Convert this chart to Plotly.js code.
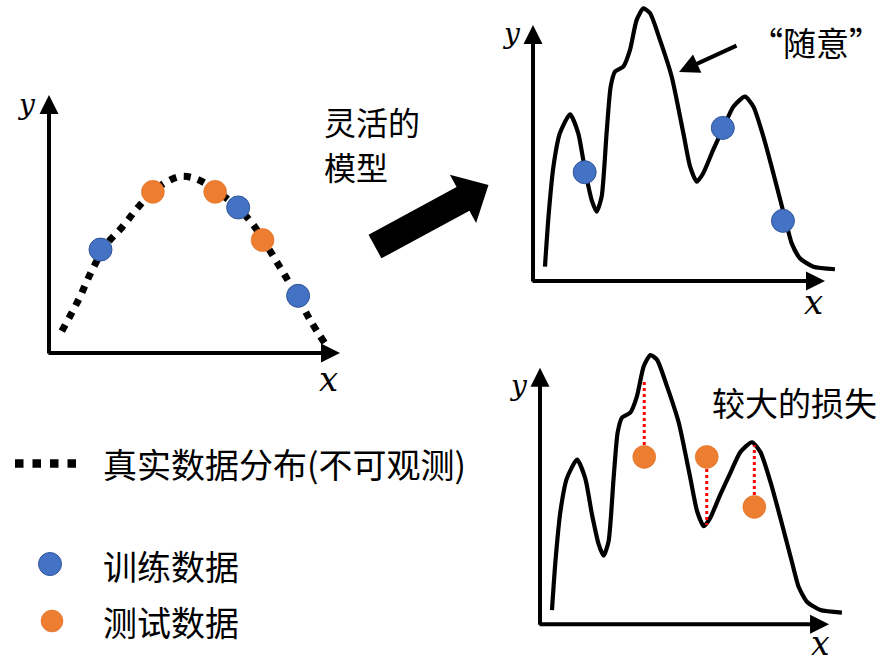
<!DOCTYPE html>
<html>
<head>
<meta charset="utf-8">
<script src="https://cdn.plot.ly/plotly-3.0.1.min.js"></script>
<style>
html,body{margin:0;padding:0;background:#ffffff;}
#chart{width:891px;height:666px;}
</style>
</head>
<body>
<div id="chart"></div>
<script>
// ---------------- data ----------------
// True (unobservable) data distribution: dotted curve in the left panel
const trueX = [0.44, 1.0, 1.5, 2.0, 2.5, 3.0, 3.5, 4.0, 4.5, 5.0, 5.5, 6.0, 6.5, 7.0, 7.5, 8.0, 8.5, 9.0, 9.48];
const trueY = [0.9, 2.15, 3.45, 4.5, 5.15, 5.9, 6.55, 7.0, 7.25, 7.18, 6.88, 6.45, 5.95, 5.3, 4.38, 3.4, 2.4, 1.3, 0.4];

// Training data (blue)
const trainX = [1.77, 6.50, 8.56];
const trainY = [4.25, 5.98, 2.35];

// Test data (orange)
const testX = [3.57, 5.71, 7.34];
const testY = [6.62, 6.62, 4.64];

// Flexible ("arbitrary") model curve, right panels
const modelX = [0.41, 0.53, 0.70, 0.92, 1.27, 1.55, 1.78, 2.01, 2.18, 2.35, 2.52, 2.66, 2.81, 3.09, 3.32, 3.55, 3.78, 4.01, 4.35, 4.75, 5.15, 5.38, 5.61, 5.83, 6.17, 6.52, 6.86, 7.26, 7.55, 7.89, 8.23, 8.63, 8.86, 9.14, 9.60, 10.34];
const modelY = [0.56, 2.51, 4.47, 5.77, 6.51, 5.77, 4.34, 3.16, 2.71, 3.29, 5.77, 7.59, 8.18, 8.37, 9.02, 10.20, 10.65, 10.46, 9.41, 7.98, 5.77, 4.47, 3.88, 4.21, 5.12, 5.99, 6.81, 7.20, 6.81, 5.64, 4.21, 2.45, 1.47, 0.89, 0.56, 0.46];

// Upper end of each loss segment (model value) at the test x positions
const lossToY = [9.66, 3.93, 7.09];

// Text
const legendLabels = ['真实数据分布(不可观测)', '训练数据', '测试数据'];
const modelLabelLines = ['灵活的', '模型'];
const arbitraryLabel = '“随意”';
const lossLabel = '较大的损失';
const axisLabelX = 'x';
const axisLabelY = 'y';

// ---------------- styling helpers ----------------
const W = 891, H = 666;
const PX = v => v / W;          // pixel x -> paper
const PY = v => 1 - v / H;      // pixel y -> paper

const BLUE = '#4472C4', BLUE_EDGE = '#2F5597';
const ORANGE = '#ED7D31', ORANGE_EDGE = '#DA6A1E';
const CJK = '"Noto Sans CJK SC", "Noto Sans", sans-serif';
const SERIF = '"DejaVu Serif", "Liberation Serif", serif';

// loss segments built from test data
const lossX = [], lossY = [];
testX.forEach((x, i) => { lossX.push(x, x, null); lossY.push(testY[i], lossToY[i], null); });

const traces = [
  // left panel
  {x: trueX, y: trueY, xaxis: 'x', yaxis: 'y', mode: 'lines', type: 'scatter',
   line: {color: '#000', width: 7, dash: '7px,7.5px', shape: 'spline', smoothing: 1}, hoverinfo: 'skip'},
  {x: trainX, y: trainY, xaxis: 'x', yaxis: 'y', mode: 'markers', type: 'scatter', cliponaxis: false,
   marker: {color: BLUE, size: 23, line: {color: BLUE_EDGE, width: 1}}},
  {x: testX, y: testY, xaxis: 'x', yaxis: 'y', mode: 'markers', type: 'scatter', cliponaxis: false,
   marker: {color: ORANGE, size: 23, line: {color: ORANGE_EDGE, width: 0.5}}},
  // top-right panel
  {x: modelX, y: modelY, xaxis: 'x2', yaxis: 'y2', mode: 'lines', type: 'scatter',
   line: {color: '#000', width: 4.2, shape: 'spline', smoothing: 0.6}, hoverinfo: 'skip'},
  {x: trainX, y: trainY, xaxis: 'x2', yaxis: 'y2', mode: 'markers', type: 'scatter', cliponaxis: false,
   marker: {color: BLUE, size: 23, line: {color: BLUE_EDGE, width: 1}}},
  // bottom-right panel
  {x: modelX, y: modelY, xaxis: 'x3', yaxis: 'y3', mode: 'lines', type: 'scatter',
   line: {color: '#000', width: 4.2, shape: 'spline', smoothing: 0.6}, hoverinfo: 'skip'},
  {x: lossX, y: lossY, xaxis: 'x3', yaxis: 'y3', mode: 'lines', type: 'scatter', connectgaps: false,
   line: {color: '#FF0000', width: 3, dash: 'dot'}, hoverinfo: 'skip'},
  {x: testX, y: testY, xaxis: 'x3', yaxis: 'y3', mode: 'markers', type: 'scatter', cliponaxis: false,
   marker: {color: ORANGE, size: 23, line: {color: ORANGE_EDGE, width: 0.5}}}
];

const hiddenAxis = (domain, range, anchor) => ({domain, range, anchor, visible: false, fixedrange: true});

// axis arrows (in each subplot's own coordinates)
function axisArrows(xa, ya, xTip, yTip, dx, dy) {
  const common = {xref: xa, yref: ya, axref: xa, ayref: ya, text: '', showarrow: true,
                  arrowhead: 2, arrowsize: 0.95, arrowwidth: 4, arrowcolor: '#000', standoff: 0};
  return [
    Object.assign({}, common, {x: xTip, y: 0, ax: -dx, ay: 0}),
    Object.assign({}, common, {x: 0, y: yTip, ax: 0, ay: -dy})
  ];
}

// text placed at a pixel position (centre anchored unless stated)
function label(x, y, text, font, xanchor) {
  return {xref: 'paper', yref: 'paper', x: PX(x), y: PY(y), text, showarrow: false,
          xanchor: xanchor || 'center', yanchor: 'middle', align: 'left', font};
}
const fY = {family: SERIF, size: 28, color: '#000'};
const fX = {family: SERIF, size: 34, color: '#000'};
const fXb = {family: SERIF, size: 33, color: '#000'};
const fC = {family: CJK, size: 32, color: '#000'};
const fL = {family: CJK, size: 34, color: '#000'};

const annotations = [
  ...axisArrows('x', 'y', 10, 10.6, 0.07, 0.08),
  ...axisArrows('x2', 'y2', 10, 10, 0.07, 0.08),
  ...axisArrows('x3', 'y3', 9.9, 10.15, 0.07, 0.08),
  // axis letters
  label(26, 105, '<i>' + axisLabelY + '</i>', fY),
  label(328, 379, '<i>' + axisLabelX + '</i>', fX),
  label(511, 34, '<i>' + axisLabelY + '</i>', fY),
  label(813, 302, '<i>' + axisLabelX + '</i>', fX),
  label(518, 385, '<i>' + axisLabelY + '</i>', fY),
  label(820, 643, '<i>' + axisLabelX + '</i>', fXb),
  // texts
  label(322, 121, modelLabelLines[0], fC, 'left'),
  label(322, 166, modelLabelLines[1], fC, 'left'),
  label(816, 42, arbitraryLabel, {family: CJK, size: 33, color: '#000'}),
  label(710, 402, lossLabel, {family: CJK, size: 33, color: '#000'}, 'left'),
  // thin arrow pointing at the curve
  {xref: 'paper', yref: 'paper', x: PX(679), y: PY(72), ax: 59, ay: -27, text: '', showarrow: true,
   arrowhead: 2, arrowsize: 1, arrowwidth: 4, arrowcolor: '#000', standoff: 0},
  // legend texts
  label(101, 464, legendLabels[0], fL, 'left'),
  label(101, 565, legendLabels[1], fL, 'left'),
  label(101, 621, legendLabels[2], fL, 'left')
];

// big block arrow between panels
function blockArrow(tail, tip, shaftHalf, headHalf, headLen) {
  const dx = tip[0] - tail[0], dy = tip[1] - tail[1];
  const L = Math.hypot(dx, dy), ux = dx / L, uy = dy / L, nx = -uy, ny = ux;
  const bx = tip[0] - ux * headLen, by = tip[1] - uy * headLen;
  const pts = [
    [tail[0] + nx * shaftHalf, tail[1] + ny * shaftHalf],
    [bx + nx * shaftHalf, by + ny * shaftHalf],
    [bx + nx * headHalf, by + ny * headHalf],
    tip,
    [bx - nx * headHalf, by - ny * headHalf],
    [bx - nx * shaftHalf, by - ny * shaftHalf],
    [tail[0] - nx * shaftHalf, tail[1] - ny * shaftHalf]
  ];
  return 'M' + pts.map(p => PX(p[0]).toFixed(5) + ',' + PY(p[1]).toFixed(5)).join('L') + 'Z';
}

const shapes = [
  {type: 'path', xref: 'paper', yref: 'paper', path: blockArrow([375, 246.5], [488.5, 185], 13.5, 27.5, 29),
   fillcolor: '#000', line: {width: 0}},
  // legend symbols
  {type: 'line', xref: 'paper', yref: 'paper', x0: PX(15), x1: PX(77), y0: PY(463.5), y1: PY(463.5),
   line: {color: '#000', width: 8.5, dash: '8.5px,9px'}},
  {type: 'circle', xref: 'paper', yref: 'paper', x0: PX(38.5), x1: PX(61.5), y0: PY(575.5), y1: PY(552.5),
   fillcolor: BLUE, line: {color: BLUE_EDGE, width: 1}},
  {type: 'circle', xref: 'paper', yref: 'paper', x0: PX(41), x1: PX(63), y0: PY(632), y1: PY(610),
   fillcolor: ORANGE, line: {color: ORANGE_EDGE, width: 0.5}}
];

const layout = {
  width: W, height: H,
  margin: {l: 0, r: 0, t: 0, b: 0, pad: 0},
  paper_bgcolor: '#ffffff', plot_bgcolor: 'rgba(0,0,0,0)',
  showlegend: false,
  xaxis:  hiddenAxis([49 / W, 340 / W], [0, 10], 'y'),
  yaxis:  hiddenAxis([1 - 353 / H, 1 - 95 / H], [0, 10.6], 'x'),
  xaxis2: hiddenAxis([533 / W, (533 + 10.5 * 29.2) / W], [0, 10.5], 'y2'),
  yaxis2: hiddenAxis([1 - 281 / H, 1 - (281 - 10.9 * 25.6) / H], [0, 10.9], 'x2'),
  xaxis3: hiddenAxis([540 / W, (540 + 10.5 * 29.2) / W], [0, 10.5], 'y3'),
  yaxis3: hiddenAxis([1 - 624.2 / H, 1 - (624.2 - 10.9 * 25.27) / H], [0, 10.9], 'x3'),
  shapes, annotations
};

Plotly.newPlot('chart', traces, layout, {staticPlot: true, displayModeBar: false});
</script>
</body>
</html>
